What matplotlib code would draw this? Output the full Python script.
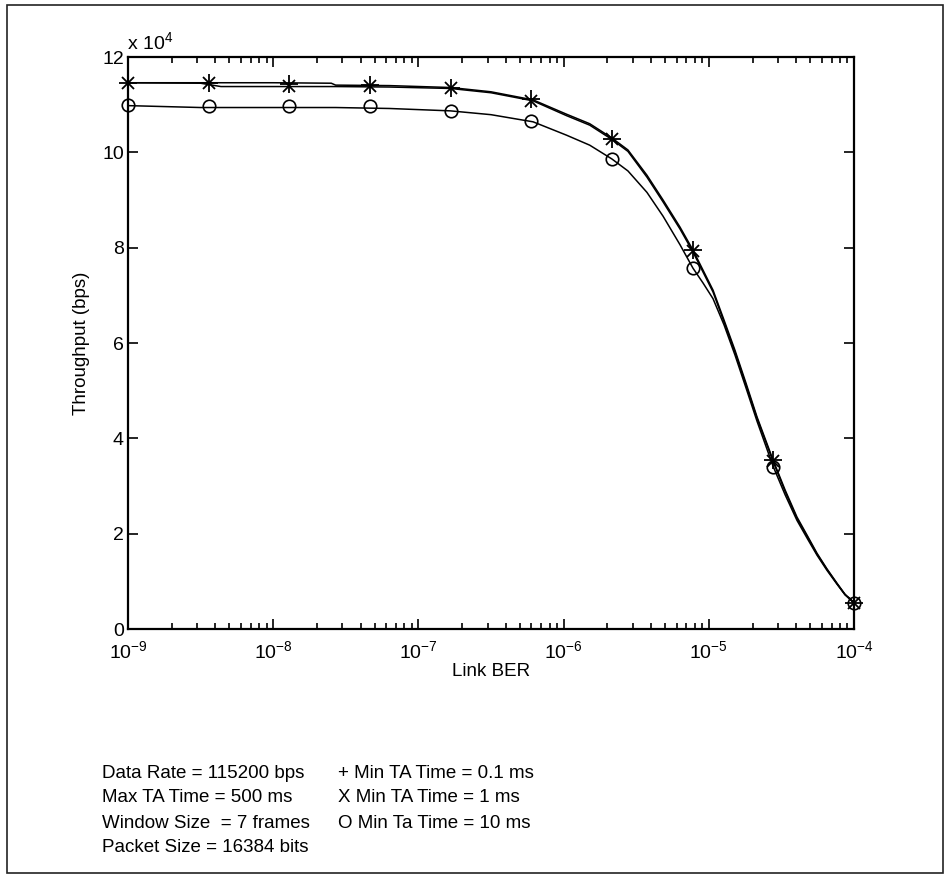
import matplotlib
matplotlib.use('Agg')
import matplotlib.pyplot as plt
from matplotlib.patches import Rectangle
import numpy as np

plt.rcParams['font.family'] = ['Liberation Sans', 'DejaVu Sans']
plt.rcParams['mathtext.default'] = 'regular'
plt.rcParams['axes.unicode_minus'] = False

# link BER (log10) and throughput (x 10^4 bps)
ber_log = [-9.0, -8.5, -8.36, -8.0, -7.6, -7.57, -7.2, -6.78, -6.5, -6.21,
           -5.98, -5.82, -5.667, -5.557, -5.426, -5.315, -5.198, -5.109, -5.04,
           -4.971, -4.895, -4.82, -4.744, -4.668, -4.558, -4.475, -4.393, -4.32,
           -4.255, -4.186, -4.117, -4.062, -4.0]
thr_min_0p1ms = [11.46, 11.46, 11.46, 11.46, 11.45, 11.41, 11.40, 11.36, 11.27, 11.10,
                 10.80, 10.60, 10.30, 10.05, 9.52, 9.00, 8.43, 7.95, 7.53,
                 7.11, 6.48, 5.85, 5.16, 4.45, 3.55, 2.92, 2.35, 1.95,
                 1.59, 1.26, 0.96, 0.73, 0.55]
thr_min_1ms = [11.46, 11.45, 11.38, 11.38, 11.38, 11.38, 11.37, 11.34, 11.25, 11.08,
               10.77, 10.57, 10.27, 10.02, 9.48, 8.96, 8.39, 7.91, 7.49,
               7.07, 6.44, 5.81, 5.12, 4.42, 3.52, 2.89, 2.32, 1.93,
               1.57, 1.25, 0.95, 0.72, 0.55]
thr_min_10ms = [10.98, 10.94, 10.94, 10.94, 10.94, 10.94, 10.92, 10.87, 10.79, 10.64,
                10.36, 10.15, 9.86, 9.61, 9.16, 8.66, 8.06, 7.57, 7.26,
                6.93, 6.38, 5.75, 5.06, 4.36, 3.42, 2.82, 2.28, 1.89,
                1.55, 1.23, 0.94, 0.72, 0.55]

# marker positions along the curves
mark_ber = [1e-9, 3.59e-9, 1.29e-8, 4.64e-8, 1.67e-7, 5.99e-7, 2.15e-6, 7.74e-6, 2.78e-5, 1e-4]
mark_0p1ms = [11.46, 11.46, 11.44, 11.42, 11.36, 11.11, 10.29, 7.96, 3.55, 0.55]
mark_1ms = [11.46, 11.45, 11.40, 11.39, 11.34, 11.08, 10.27, 7.93, 3.52, 0.55]
mark_10ms = [10.99, 10.98, 10.97, 10.97, 10.86, 10.66, 9.87, 7.58, 3.40, 0.55]

params_left = ['Data Rate = 115200 bps', 'Max TA Time = 500 ms',
               'Window Size  = 7 frames', 'Packet Size = 16384 bits']
params_right = ['+ Min TA Time = 0.1 ms', 'X Min TA Time = 1 ms',
                'O Min Ta Time = 10 ms']

fs_tick = 14
fs = 13.5

fig = plt.figure(figsize=(9.45, 8.75), dpi=100)
ax = fig.add_axes([128/945, 1 - 629/875, 726/945, 572/875])

ber = 10 ** np.array(ber_log)
ax.plot(ber, thr_min_0p1ms, color='black', lw=1.1)
ax.plot(ber, thr_min_1ms, color='black', lw=1.1)
ax.plot(ber, thr_min_10ms, color='black', lw=1.1)
ax.plot(mark_ber, mark_0p1ms, ls='none', marker='+', ms=13, mew=1.3, color='black', clip_on=False)
ax.plot(mark_ber, mark_1ms, ls='none', marker='x', ms=9, mew=1.3, color='black', clip_on=False)
ax.plot(mark_ber, mark_10ms, ls='none', marker='o', ms=9, mew=1.2, mfc='none', color='black', clip_on=False)

ax.set_xscale('log')
ax.set_xlim(1e-9, 1e-4)
ax.set_ylim(0, 12)
ax.set_yticks(np.arange(0, 13, 2))
ax.set_xticks([1e-9, 1e-8, 1e-7, 1e-6, 1e-5, 1e-4])
ax.tick_params(which='both', direction='in', top=True, right=True, labelsize=fs_tick, width=1.2)
ax.tick_params(which='major', length=7)
ax.tick_params(which='minor', length=4)
ax.tick_params(axis='x', which='major', pad=8)
ax.tick_params(axis='y', which='major', pad=3)
for s in ax.spines.values():
    s.set_linewidth(1.6)

ax.set_xlabel('Link BER', fontsize=fs)
ax.xaxis.set_label_coords(0.5, -0.06)
ax.set_ylabel('Throughput (bps)', fontsize=fs)
ax.yaxis.set_label_coords(-0.052, 0.5)
fig.text(127/945, 1 - 49/875, 'x 10$^{4}$', fontsize=fs_tick, ha='left', va='baseline')

for i, t in enumerate(params_left):
    fig.text(102/945, 1 - (773 + 25 * i)/875, t, fontsize=fs, va='center')
for i, t in enumerate(params_right):
    fig.text(338/945, 1 - (773 + 25 * i)/875, t, fontsize=fs, va='center')

fig.patches.append(Rectangle((7/945, 2/875), 936/945, 868/875, transform=fig.transFigure,
                             fill=False, edgecolor='#222222', lw=1.2))

fig.savefig('out.png', dpi=100)
